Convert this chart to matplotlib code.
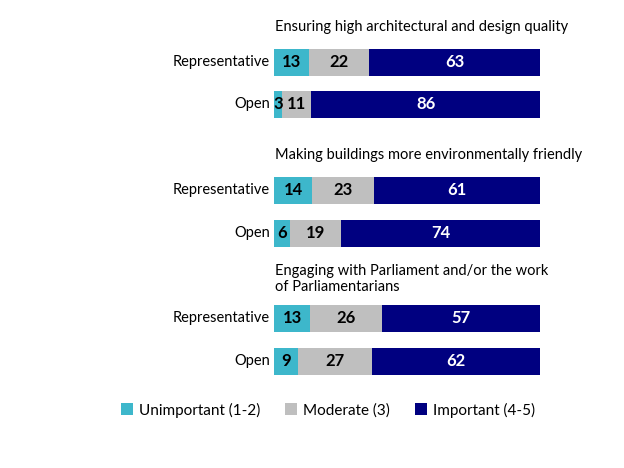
import matplotlib.pyplot as plt
from matplotlib.patches import Patch
import numpy as np

plt.rcParams['font.family'] = ['Lato', 'DejaVu Sans']

# Data
groups = ['Ensuring high architectural and design quality',
          'Making buildings more environmentally friendly',
          'Engaging with Parliament and/or the work\nof Parliamentarians']
rows = ['Representative', 'Open'] * 3
unimportant = [13, 3, 14, 6, 13, 9]
moderate = [22, 11, 23, 19, 26, 27]
important = [63, 86, 61, 74, 57, 62]
series_names = ['Unimportant (1-2)', 'Moderate (3)', 'Important (4-5)']
colors = ['#3DB7CB', '#BFBFBF', '#000080']

# Layout (pixel-like y positions)
bar_y = [62, 104, 190, 233, 318, 361]
title_y = [27, 155, 279]

fig = plt.figure(figsize=(6.24, 4.68), dpi=100)
ax = fig.add_axes([274 / 624, 0, 266 / 624, 1])
ax.set_xlim(0, 100)
ax.set_ylim(468, 0)
ax.axis('off')

vals = np.array([unimportant, moderate, important], dtype=float)
totals = vals.sum(axis=0)
pct = vals / totals * 100

left = np.zeros(len(rows))
for k in range(3):
    ax.barh(bar_y, pct[k], left=left, height=27, color=colors[k], edgecolor='none')
    for i in range(len(rows)):
        txtc = 'white' if k == 2 else 'black'
        ax.text(left[i] + pct[k][i] / 2, bar_y[i], str(int(vals[k][i])),
                ha='center', va='center', fontsize=12, fontweight='bold', color=txtc)
    left += pct[k]

for i, r in enumerate(rows):
    ax.text(-1.5, bar_y[i], r, ha='right', va='center', fontsize=10.5)

for g, ty in zip(groups, title_y):
    ax.text(0.5, ty, g, ha='left', va='center', fontsize=10.5, linespacing=1.25)

handles = [Patch(facecolor=c, edgecolor='none') for c in colors]
fig.legend(handles, series_names, loc='center', bbox_to_anchor=(328 / 624, 1 - 410 / 468),
           ncol=3, frameon=False, fontsize=11, handlelength=0.8, handleheight=0.8,
           handletextpad=0.4, columnspacing=1.6)

fig.savefig('out.png', dpi=100)
